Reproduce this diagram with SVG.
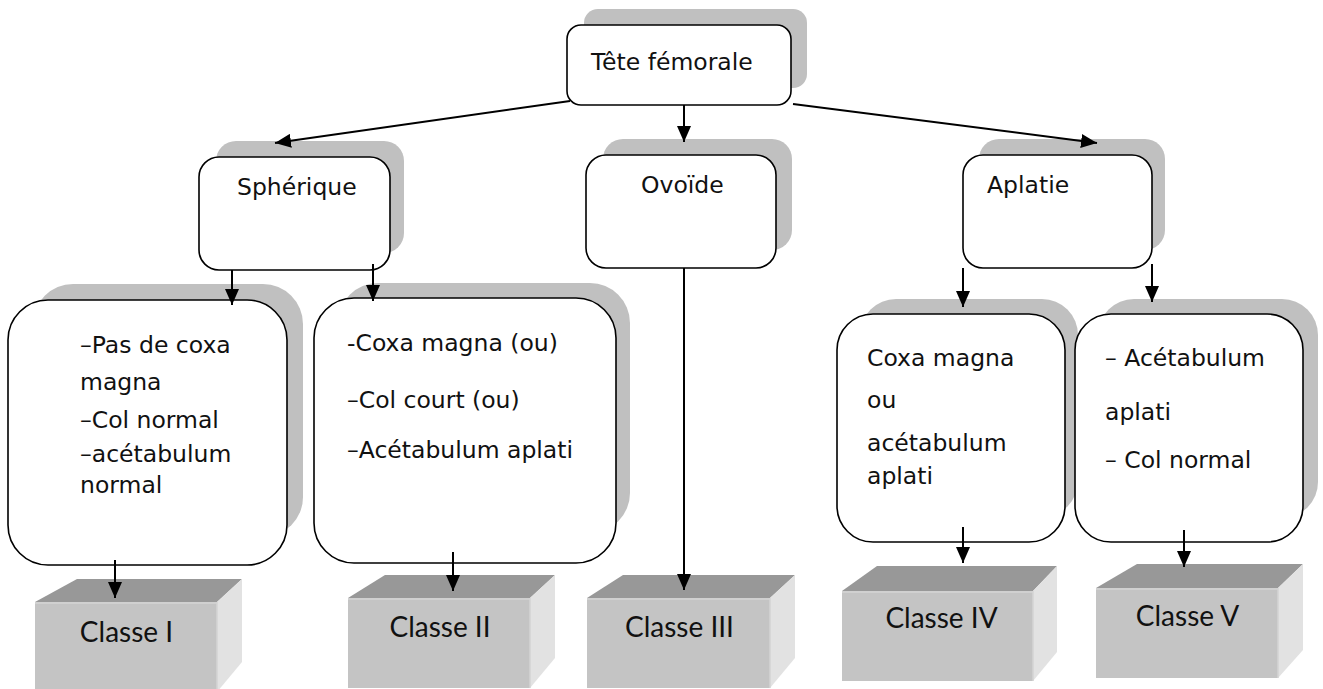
<svg xmlns="http://www.w3.org/2000/svg" width="1323" height="689" viewBox="0 0 1323 689">
<style>
.sh{fill:#c0c0c0;stroke:none}
.bx{fill:#fff;stroke:#000;stroke-width:1.6}
.t{font-family:"DejaVu Sans",sans-serif;font-size:23.5px;fill:#111}
.ct{font-family:Lato,"Liberation Sans",sans-serif;font-size:28px;fill:#111;text-anchor:middle}
.top{fill:#989898}
.front{fill:#c4c4c4}
.side{fill:#e2e2e2}
.edge{stroke:#d4d4d4;stroke-width:1.5;fill:none}
.c{stroke:#000;stroke-width:2;fill:none;marker-end:url(#ah)}
</style>
<defs>
<marker id="ah" viewBox="0 0 16 14" refX="16" refY="7" markerWidth="16" markerHeight="14" markerUnits="userSpaceOnUse" orient="auto">
<path d="M0,0 L16,7 L0,14 z" fill="#000"/>
</marker>
</defs>
<rect width="1323" height="689" fill="#fff"/>

<g id="tete">
<rect class="sh" x="584" y="9" width="223" height="79" rx="14"/>
<rect class="bx" x="567" y="25" width="224" height="80" rx="14"/>
<text class="t" x="591" y="70">Tête fémorale</text>
</g>

<g id="spherique">
<rect class="sh" x="216" y="141" width="188" height="112" rx="20"/>
<rect class="bx" x="199" y="157" width="191" height="113" rx="20"/>
<text class="t" x="237" y="195">Sphérique</text>
</g>

<g id="ovoide">
<rect class="sh" x="603" y="139" width="189" height="111" rx="20"/>
<rect class="bx" x="586" y="155" width="190" height="113" rx="20"/>
<text class="t" x="641" y="193">Ovoïde</text>
</g>

<g id="aplatie">
<rect class="sh" x="979" y="139" width="186" height="111" rx="20"/>
<rect class="bx" x="963" y="155" width="189" height="113" rx="20"/>
<text class="t" x="987" y="193">Aplatie</text>
</g>

<g id="box1">
<rect class="sh" x="33" y="284" width="270" height="253" rx="40"/>
<rect class="bx" x="8" y="300" width="279" height="265" rx="40"/>
<text class="t" x="80" y="353">–Pas de coxa</text>
<text class="t" x="80" y="390">magna</text>
<text class="t" x="80" y="428">–Col normal</text>
<text class="t" x="80" y="462">–acétabulum</text>
<text class="t" x="80" y="493">normal</text>
</g>

<g id="box2">
<rect class="sh" x="338" y="283" width="292" height="250" rx="40"/>
<rect class="bx" x="314" y="298" width="302" height="265" rx="40"/>
<text class="t" x="347" y="351">-Coxa magna (ou)</text>
<text class="t" x="347" y="408">–Col court (ou)</text>
<text class="t" x="347" y="458">–Acétabulum aplati</text>
</g>

<g id="box3">
<rect class="sh" x="860" y="299" width="218" height="218" rx="36"/>
<rect class="bx" x="837" y="314" width="228" height="228" rx="36"/>
<text class="t" x="867" y="366">Coxa magna</text>
<text class="t" x="867" y="408">ou</text>
<text class="t" x="867" y="451">acétabulum</text>
<text class="t" x="867" y="484">aplati</text>
</g>

<g id="box4">
<rect class="sh" x="1098" y="299" width="220" height="219" rx="36"/>
<rect class="bx" x="1075" y="314" width="228" height="228" rx="36"/>
<text class="t" x="1105" y="366">– Acétabulum</text>
<text class="t" x="1105" y="420">aplati</text>
<text class="t" x="1105" y="468">– Col normal</text>
</g>

<g id="classe1">
<polygon class="top" points="35,602 77,579 242,579 217,602"/>
<polygon class="side" points="217,602 242,579 242,662 217,692"/>
<rect class="front" x="35" y="602" width="182" height="90"/>
<path class="edge" d="M35,603 H217 M217,602 V692"/>
<text class="ct" x="126.5" y="642">Classe I</text>
</g>

<g id="classe2">
<polygon class="top" points="348,598 385,575 555,575 530,598"/>
<polygon class="side" points="530,598 555,575 555,658 530,688"/>
<rect class="front" x="348" y="598" width="182" height="90"/>
<path class="edge" d="M348,599 H530 M530,598 V688"/>
<text class="ct" x="440" y="637">Classe II</text>
</g>

<g id="classe3">
<polygon class="top" points="587,598 623,575 795,575 770,598"/>
<polygon class="side" points="770,598 795,575 795,658 770,688"/>
<rect class="front" x="587" y="598" width="183" height="90"/>
<path class="edge" d="M587,599 H770 M770,598 V688"/>
<text class="ct" x="679.5" y="637">Classe III</text>
</g>

<g id="classe4">
<polygon class="top" points="842,591 877,566 1057,566 1033,591"/>
<polygon class="side" points="1033,591 1057,566 1057,652 1033,681"/>
<rect class="front" x="842" y="591" width="191" height="90"/>
<path class="edge" d="M842,592 H1033 M1033,591 V681"/>
<text class="ct" x="941.5" y="628">Classe IV</text>
</g>

<g id="classe5">
<polygon class="top" points="1096,588 1137,564 1303,564 1278,588"/>
<polygon class="side" points="1278,588 1303,564 1303,650 1278,678"/>
<rect class="front" x="1096" y="588" width="182" height="90"/>
<path class="edge" d="M1096,589 H1278 M1278,588 V678"/>
<text class="ct" x="1187.5" y="626">Classe V</text>
</g>

<g id="connectors">
<line class="c" x1="570" y1="101" x2="275" y2="143"/>
<line class="c" x1="684" y1="105" x2="684" y2="142"/>
<line class="c" x1="793" y1="104" x2="1097" y2="143"/>
<line class="c" x1="232" y1="270" x2="232" y2="305"/>
<line class="c" x1="373" y1="264" x2="373" y2="301"/>
<line class="c" x1="684" y1="268" x2="684" y2="590"/>
<line class="c" x1="963" y1="268" x2="963" y2="307"/>
<line class="c" x1="1152" y1="264" x2="1152" y2="302"/>
<line class="c" x1="115" y1="560" x2="115" y2="598"/>
<line class="c" x1="453" y1="552" x2="453" y2="591"/>
<line class="c" x1="963" y1="527" x2="963" y2="563"/>
<line class="c" x1="1184" y1="530" x2="1184" y2="567"/>
</g>
</svg>
